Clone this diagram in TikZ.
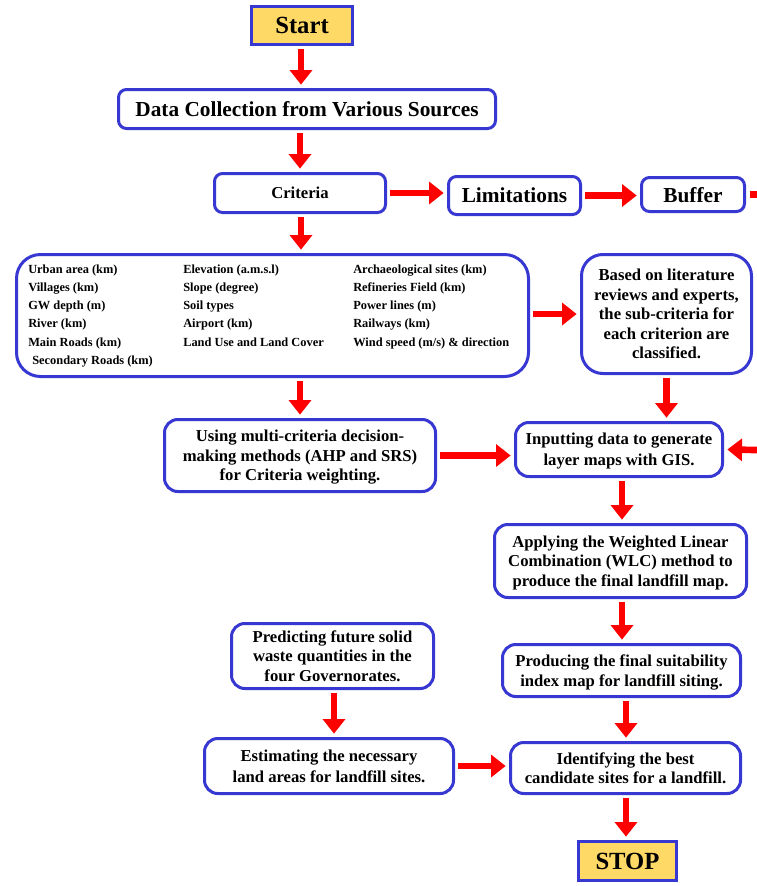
\documentclass[tikz,border=0pt]{standalone}
\usepackage{fontspec}
\setmainfont{Liberation Serif}
\usetikzlibrary{arrows.meta}
\definecolor{bblue}{RGB}{55,55,210}
\definecolor{gold}{RGB}{255,217,102}
\definecolor{ared}{RGB}{255,0,0}
\begin{document}
\begin{tikzpicture}[x=0.75pt,y=-0.75pt,
 box/.style={draw=bblue, line width=2.25pt, fill=white, rounded corners=6pt, align=center, inner sep=0pt, text depth=0pt, font=\bfseries\fontsize{12.5}{14.6}\selectfont},
 term/.style={draw=bblue, line width=2.25pt, fill=gold, inner sep=0pt, font=\bfseries\fontsize{18.5}{22}\selectfont},
 big/.style={font=\bfseries\fontsize{16}{19}\selectfont},
 sz/.style 2 args={minimum width={(#1-3)*0.75pt}, minimum height={(#2-3)*0.75pt}},
 arr/.style={draw=ared, line width=5pt, -{Triangle[length=11pt,width=16.5pt]}, shorten <=2.5pt, shorten >=2.5pt},
 shaft/.style={draw=ared, line width=5pt, shorten <=3pt},
 col/.style={anchor=north west, inner sep=0pt, align=left, font=\bfseries\fontsize{9.3}{13.65}\selectfont},
 ]
\useasboundingbox (0,0) rectangle (757,886);

\node[term, sz={104}{41}] (start) at (302,25.5) {Start};
\node[box, big, sz={380}{42}] (data) at (307,109) {Data Collection from Various Sources};
\node[box, sz={174}{42}, font=\bfseries\fontsize{12.5}{15}\selectfont] (crit) at (300,193) {Criteria};
\node[box, big, sz={135}{41}] (lim) at (514.5,195.5) {Limitations};
\node[box, big, sz={106}{37}] (buf) at (693,194.5) {Buffer};
\coordinate (bufout) at (757,194.5);

\node[box, sz={515}{125}, rounded corners=18pt] (list) at (272.5,315.5) {};
\node[col] (c1) at (28,264.5) {Urban area (km)\\Villages (km)\\GW depth (m)\\River (km)\\Main Roads (km)\\\hspace{3pt}Secondary Roads (km)};
\node[col] (c2) at (183,264.5) {Elevation (a.m.s.l)\\Slope (degree)\\Soil types\\Airport (km)\\Land Use and Land Cover};
\node[col] (c3) at (353,264.5) {Archaeological sites (km)\\Refineries Field (km)\\Power lines (m)\\Railways (km)\\Wind speed (m/s) \& direction};

\node[box, sz={173}{122}, rounded corners=16pt] (based) at (666.5,314) {Based on literature\\reviews and experts,\\the sub-criteria for\\each criterion are\\classified.};
\node[box, sz={274}{75}, rounded corners=10pt] (using) at (300,455.5) {Using multi-criteria decision-\\making methods (AHP and SRS)\\for Criteria weighting.};
\node[box, sz={210}{57}, rounded corners=10pt, font=\bfseries\fontsize{12.5}{16}\selectfont] (inp) at (619,449.5) {Inputting data to generate\\layer maps with GIS.};
\coordinate (inpin) at (757,450);
\node[box, sz={255}{76}, rounded corners=10pt] (app) at (620.5,561) {Applying the Weighted Linear\\Combination (WLC) method to\\produce the final landfill map.};
\node[box, sz={241}{55}, rounded corners=10pt] (prod) at (621.5,670.5) {Producing the final suitability\\index map for landfill siting.};
\node[box, sz={205}{68}, rounded corners=10pt] (pred) at (332.5,656) {Predicting future solid\\waste quantities in the\\four Governorates.};
\node[box, sz={252}{58}, rounded corners=10pt, font=\bfseries\fontsize{12.5}{15.5}\selectfont] (est) at (329,766) {Estimating the necessary\\land areas for landfill sites.};
\node[box, sz={233}{54}, rounded corners=10pt] (ident) at (625.5,768) {Identifying the best\\candidate sites for a landfill.};
\node[term, sz={101}{42}] (stop) at (627.5,861) {STOP};

\draw[arr] (start.south -| 301,0) -- (data.north -| 301,0);
\draw[arr] (data.south -| crit) -- (crit.north);
\draw[arr] (crit.east) -- (crit.east -| lim.west);
\draw[arr] (lim.east) -- (lim.east -| buf.west);
\draw[shaft] (buf.east) -- (bufout);
\draw[arr] (crit.south -| 301,0) -- (list.north -| 301,0);
\draw[arr] (list.east |- based) -- (based.west);
\draw[arr] (list.south -| using) -- (using.north);
\draw[arr] (based.south) -- (based.south |- inp.north);
\draw[arr] (using.east) -- (using.east -| inp.west);
\draw[arr, shorten <=0pt] (inpin) -- (inp.east);
\draw[arr] (inp.south -| 622,0) -- (app.north -| 622,0);
\draw[arr] (app.south -| 622,0) -- (prod.north -| 622,0);
\draw[arr] (prod.south -| 626,0) -- (ident.north -| 626,0);
\draw[arr] (ident.south -| 626,0) -- (stop.north -| 626,0);
\draw[arr] (pred.south -| 334,0) -- (est.north -| 334,0);
\draw[arr] (est.east) -- (est.east -| ident.west);
\end{tikzpicture}
\end{document}
